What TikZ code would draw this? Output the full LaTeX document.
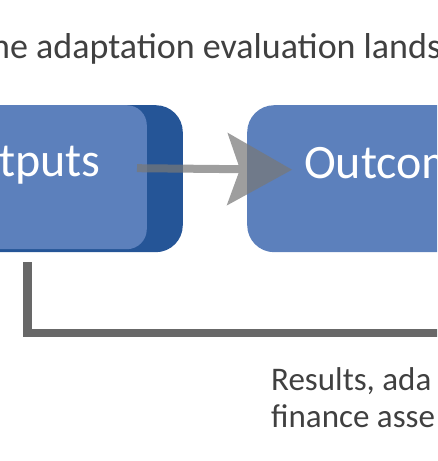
\documentclass[tikz,border=0pt]{standalone}
\usepackage{fontspec}
\setmainfont{Carlito}
\usepackage{tikz}
\usetikzlibrary{positioning, arrows.meta}
\usepackage{xcolor}
\definecolor{boxblue}{HTML}{5C80BC}
\definecolor{backblue}{HTML}{255597}
\definecolor{textgrey}{HTML}{404040}
\definecolor{arrowgrey}{HTML}{787878}
\definecolor{loopgrey}{HTML}{686868}

\begin{document}
\begin{tikzpicture}[x=1pt, y=-1pt, >=Stealth,
    box/.style={fill=boxblue, minimum height=144pt, inner sep=0pt},
    boxtext/.style={text=white, font=\fontsize{48}{56}\selectfont, inner sep=0pt},
    note/.style={text=textgrey, inner sep=0pt, anchor=base west}]
  \useasboundingbox (0,0) rectangle (437,461);
  \clip (0,0) rectangle (437,461);
  % Title
  \node[note, font=\fontsize{36}{43}\selectfont] (title) at (-9,58) {he adaptation evaluation lands};
  % Outputs
  \node[box, fill=backblue, rounded corners=27pt, minimum width=220pt, minimum height=147pt, anchor=north east] (outputs back) at (183,105) {};
  \node[box, rounded corners=20pt, minimum width=220pt, anchor=north east] (outputs) at (147,105) {};
  \node[boxtext, anchor=base east] (outputs text) at (101,176) {tputs};
  % Outcomes
  \node[box, rounded corners=27pt, minimum width=260pt, minimum height=147pt, anchor=north west] (outcomes) at (247,105) {};
  \node[boxtext, anchor=base west] (outcomes text) at (304,178) {Outcom};
  % Arrow
  \begin{scope}[transparency group, opacity=0.72]
    \draw[arrowgrey, line width=8pt, -{Stealth[length=65pt, width=73pt, inset=13pt, line width=0pt]}]
      ([xshift=-10pt, yshift=9pt]outputs.east) -- ([xshift=45pt, yshift=9pt]outcomes.west);
  \end{scope}
  % Feedback
  \coordinate (loop start) at (27.5,262);
  \coordinate (loop end) at (445,333);
  \draw[loopgrey, line width=8.5pt] (loop start) |- (loop end);
  \node[note, font=\fontsize{33}{40}\selectfont] (results) at (271,390) {Results, ada};
  \node[note, font=\fontsize{33}{40}\selectfont] (finance) at (271,427) {finance asse};
\end{tikzpicture}
\end{document}
